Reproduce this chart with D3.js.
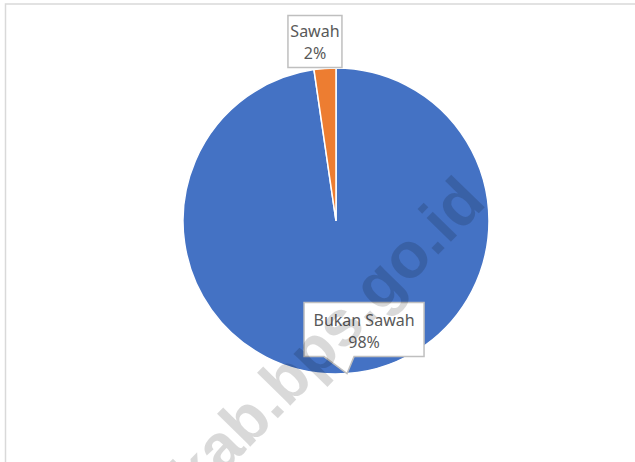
<!DOCTYPE html>
<html>
<head>
<meta charset="utf-8">
<script src="https://cdn.jsdelivr.net/npm/d3@7"></script>
<style>
  body { margin: 0; background: #fff; }
  svg { display: block; }
</style>
</head>
<body>
<div id="chart"></div>
<script>
// Datos del grafico (porcentaje de lahan)
const kategori = ["Bukan Sawah", "Sawah"];
const nilai = [97.7, 2.3];
const warna = ["#4472C4", "#ED7D31"];

const WIDTH = 635;
const HEIGHT = 462;

// centro y radio del pie
const CX = 336, CY = 221, R = 153;

// desplazamiento de cada etiqueta respecto al borde del pie (x, y del centro de la caja)
const LABEL_OFFSET = [
  { dx: 17, dy: -44, w: 120, h: 54, pointer: true },
  { dx: -10, dy: -27, w: 54, h: 52, pointer: false }
];

const data = kategori.map((k, i) => ({ kategori: k, nilai: nilai[i], warna: warna[i] }));
const total = d3.sum(nilai);
const fmt = d3.format(".0%");

const svg = d3.select("#chart").append("svg")
  .attr("width", WIDTH)
  .attr("height", HEIGHT);

// marco del area del grafico
svg.append("rect")
  .attr("x", 5.5).attr("y", 4)
  .attr("width", 700).attr("height", 600)
  .attr("fill", "none")
  .attr("stroke", "#d9d9d9")
  .attr("stroke-width", 1.5);

const pie = d3.pie().sort(null).value(d => d.nilai);
const arcs = pie(data);

const arc = d3.arc().innerRadius(0).outerRadius(R);
const edge = d3.arc().innerRadius(R).outerRadius(R);

const g = svg.append("g").attr("transform", `translate(${CX},${CY})`);

g.selectAll(".slice").data(arcs).join("path")
  .attr("class", "slice")
  .attr("d", arc)
  .attr("fill", d => d.data.warna)
  .attr("stroke", "#fff")
  .attr("stroke-width", 1.5);

// Etiquetas tipo callout
const labels = g.selectAll(".label").data(arcs).join("g")
  .attr("class", "label")
  .attr("transform", (d, i) => {
    const [px, py] = edge.centroid(d);
    return `translate(${px + LABEL_OFFSET[i].dx},${py + LABEL_OFFSET[i].dy})`;
  });

labels.append("path")
  .attr("d", (d, i) => {
    const o = LABEL_OFFSET[i];
    const l = -o.w / 2, r = o.w / 2, t = -o.h / 2, b = o.h / 2;
    if (!o.pointer) return `M${l},${t}H${r}V${b}H${l}Z`;
    const tx = -o.dx, ty = -o.dy; // punta en el borde del pie
    return `M${l},${t}H${r}V${b}H${l + 50}L${tx},${ty}L${l + 20},${b}H${l}Z`;
  })
  .attr("fill", "#fff")
  .attr("stroke", "#bfbfbf")
  .attr("stroke-width", 1.5);

labels.append("text")
  .attr("text-anchor", "middle")
  .attr("font-family", "'Noto Sans', sans-serif")
  .attr("font-size", 16)
  .attr("fill", "#595959")
  .selectAll("tspan")
  .data(d => [d.data.kategori, fmt(d.data.nilai / total)])
  .join("tspan")
  .attr("x", 0)
  .attr("y", (d, i) => i === 0 ? -4 : 18)
  .text(d => d);

// marca de agua
svg.append("text")
  .attr("transform", "translate(197,501) rotate(-45.6)")
  .attr("font-family", "'Liberation Sans', Arial, sans-serif")
  .attr("font-weight", "bold")
  .attr("font-size", 64.5)
  .attr("fill", "#000")
  .attr("fill-opacity", 0.15)
  .text("kab.bps.go.id");
</script>
</body>
</html>
